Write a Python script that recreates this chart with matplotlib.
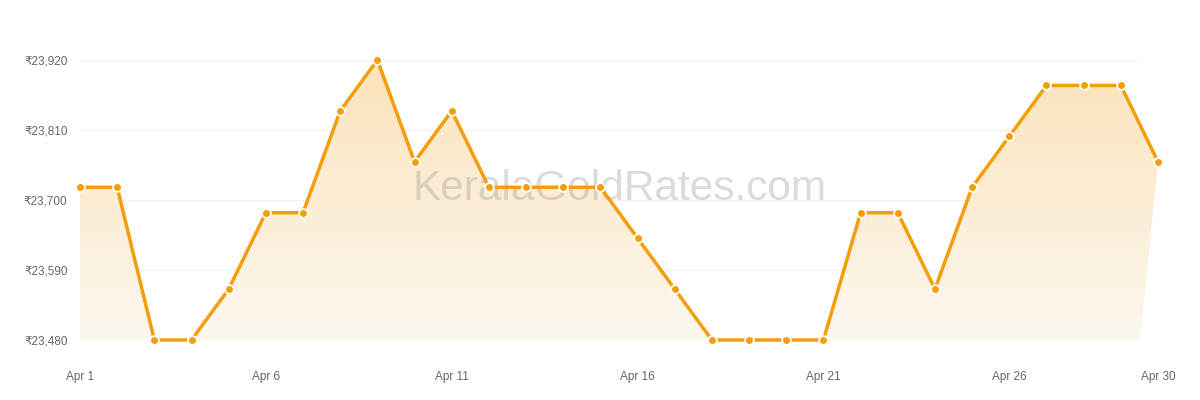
import numpy as np
import matplotlib
matplotlib.use("Agg")
import matplotlib.pyplot as plt
from matplotlib.patches import Polygon
from matplotlib.colors import LinearSegmentedColormap

plt.rcParams["font.family"] = ["Liberation Sans", "DejaVu Sans"]

# daily gold rate, Apr 1 .. Apr 30
days = list(range(1, 31))
rates = [23720, 23720, 23480, 23480, 23560, 23680, 23680, 23840, 23920, 23760,
         23840, 23720, 23720, 23720, 23720, 23640, 23560, 23480, 23480, 23480,
         23480, 23680, 23680, 23560, 23720, 23800, 23880, 23880, 23880, 23760]
ytick_vals = [23480, 23590, 23700, 23810, 23920]
xtick_days = [1, 6, 11, 16, 21, 26, 30]
xtick_labels = [f"Apr {d}" for d in xtick_days]

orange = "#f59e0b"
fig = plt.figure(figsize=(12, 4), dpi=100)
ax = fig.add_axes([80 / 1200, 0.15, 1078 / 1200, 0.70])
ax.set_xlim(days[0], days[-1])
ax.set_ylim(min(ytick_vals), max(ytick_vals))

# plot area (grid + fill) stops a little short of the last day
x_end = days[-1] - 0.48

x = np.array(days, dtype=float)
y = np.array(rates, dtype=float)
ymin = min(ytick_vals)

ax.hlines(ytick_vals, days[0], x_end, color="#f2f2f2", lw=1, zorder=0)

# gradient fill under line
verts = list(zip(x, y)) + [(x_end, ymin), (x[0], ymin)]
poly = Polygon(verts, closed=True, facecolor="none", edgecolor="none")
ax.add_patch(poly)
cmap = LinearSegmentedColormap.from_list("g", ["#fdf8ef", "#fbe3bb"])
grad = np.linspace(0, 1, 256).reshape(-1, 1)
im = ax.imshow(grad, cmap=cmap, aspect="auto", origin="lower",
               extent=[x[0], x[-1], ymin, max(ytick_vals)], zorder=1)
im.set_clip_path(poly)

ax.text(0.5, 0.54, "KeralaGoldRates.com", transform=ax.transAxes,
        ha="center", va="center", fontsize=30.5, color="#999999", alpha=0.35,
        zorder=2)

ax.plot(x, y, color=orange, lw=2.5, zorder=3, clip_on=False)
ax.scatter(x, y, s=40, color=orange, edgecolor="white", linewidth=1.3,
           zorder=4, clip_on=False)

ax.set_yticks(ytick_vals)
ax.set_yticklabels([f"₹{v:,}" for v in ytick_vals])
ax.set_xticks(xtick_days)
ax.set_xticklabels(xtick_labels)
ax.tick_params(axis="both", length=0, labelsize=8.5, labelcolor="#666666")
ax.tick_params(axis="y", pad=9)
ax.tick_params(axis="x", pad=22)
for s in ax.spines.values():
    s.set_visible(False)

fig.savefig("out.png", dpi=100, facecolor="white")
